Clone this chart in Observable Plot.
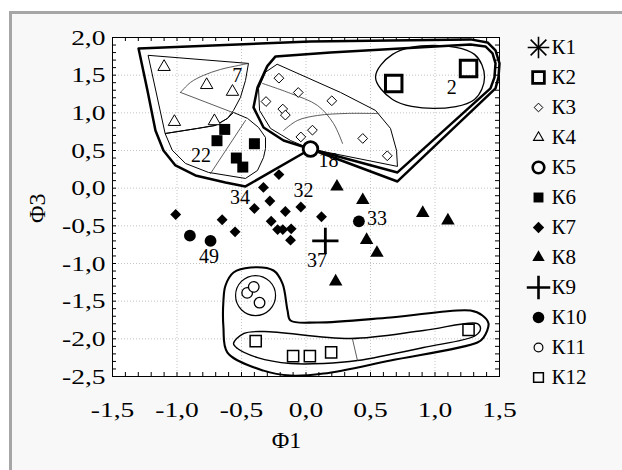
<!DOCTYPE html>
<html><head><meta charset="utf-8">
<script src="https://cdn.jsdelivr.net/npm/d3@7"></script>
<script src="https://cdn.jsdelivr.net/npm/@observablehq/plot@0.6"></script>
<style>
html,body{margin:0;padding:0;background:#fff;}
#wrap{position:relative;width:622px;height:470px;overflow:hidden;}
#bg{position:absolute;left:9px;top:11px;right:0;bottom:0;background:#f8f8f8;border-top:3px solid #a6a6a6;border-left:3px solid #a6a6a6;}
#chart,#legend{position:absolute;top:0;}
#chart{left:0;}
#legend{left:512px;}
</style></head><body>
<div id="wrap"><div id="bg"></div><div id="chart"></div><div id="legend"></div></div>
<script>
// ---- tick labels ----
const xTicks = [-1.5, -1.0, -0.5, 0.0, 0.5, 1.0, 1.5];
const yTicks = [-2.5, -2.0, -1.5, -1.0, -0.5, 0.0, 0.5, 1.0, 1.5, 2.0];
const legendKeys = ["К1","К2","К3","К4","К5","К6","К7","К8","К9","К10","К11","К12"];

// ---- points (Ф1, Ф3) per class ----
const K1 = [];
const K2 = [[0.68,1.39],[1.26,1.59]];
const K3 = [[-0.21,1.46],[-0.06,1.27],[0.20,1.16],[-0.31,1.15],[-0.18,1.05],[-0.16,0.97],[0.05,0.77],[-0.04,0.68],[0.44,0.66],[0.63,0.43]];
const K4 = [[-1.10,1.61],[-0.77,1.37],[-0.57,1.28],[-1.02,0.88],[-0.71,0.89]];
const K5 = [[0.035,0.52]];
const K6 = [[-0.63,0.78],[-0.69,0.63],[-0.40,0.59],[-0.54,0.40],[-0.49,0.28]];
const K7 = [[-0.21,0.18],[-0.33,0.01],[-0.28,-0.17],[-0.40,-0.27],[-0.16,-0.31],[-0.04,-0.25],[-1.01,-0.35],[-0.65,-0.42],[-0.27,-0.44],[-0.22,-0.55],[-0.18,-0.55],[-0.115,-0.54],[-0.12,-0.69],[-0.55,-0.58],[0.12,-0.38]];
const K8 = [[0.24,0.02],[0.44,-0.16],[0.905,-0.33],[1.10,-0.43],[0.47,-0.69],[0.55,-0.86],[0.23,-1.24]];
const K9 = [[0.15,-0.70]];
const K10 = [[-0.90,-0.63],[-0.74,-0.70],[0.41,-0.44]];
const K11 = [[-0.456,-1.39],[-0.405,-1.31],[-0.36,-1.52]];
const K12 = [[-0.39,-2.03],[-0.10,-2.23],[0.03,-2.23],[0.195,-2.18],[1.26,-1.88]];

// ---- point labels ----
const labelText = ["2","18","7","22","34","32","33","49","37"];
const labelPos = [[1.13,1.34],[0.175,0.366],[-0.533,1.497],[-0.814,0.434],[-0.512,-0.124],[-0.019,-0.037],[0.55,-0.409],[-0.752,-0.914],[0.085,-0.96]];

// ---- cluster contours (Ф1, Ф3) ----
const hullUpperOuter = [[-1.298,1.855],[0.035,1.948],[1.275,1.975],[1.407,1.935],[1.469,1.829],[1.500,1.656],[1.492,1.470],[1.469,1.324],[0.709,0.089],[0.035,0.52],[-0.469,0.023],[-0.624,0.076],[-0.857,0.169],[-1.012,0.301],[-1.105,0.501],[-1.167,0.766],[-1.229,1.297]];
const hullRight = [[-0.236,1.749],[0.19,1.802],[1.275,1.908],[1.391,1.882],[1.446,1.789],[1.469,1.656],[1.461,1.470],[1.430,1.324],[0.709,0.209],[0.035,0.52],[-0.174,0.633],[-0.329,0.806],[-0.407,1.072],[-0.376,1.337],[-0.300,1.62]];
const hullK3 = [[-0.221,1.643],[0.267,1.271],[0.539,1.032],[0.655,0.793],[0.702,0.501],[0.709,0.289],[0.035,0.52],[-0.12,0.633],[-0.275,0.793],[-0.360,1.032],[-0.368,1.324],[-0.314,1.537]];
const divK3a = [[-0.337,1.390],[-0.120,1.258],[0.089,1.098],[0.213,0.859],[0.283,0.594]];
const divK3b = [[-0.174,0.766],[-0.066,0.899],[0.089,0.965],[0.322,0.992],[0.56,0.99]];
const ellK2 = [[1.384,1.477],[1.306,1.776],[0.988,1.895],[0.671,1.776],[0.539,1.477],[0.671,1.178],[0.988,1.058],[1.306,1.178]];
const hullK4 = [[-1.221,1.763],[-0.446,1.656],[-0.469,1.430],[-0.508,1.205],[-0.562,1.032],[-0.609,0.926],[-0.702,0.833],[-0.841,0.793],[-1.089,0.726]];
const divK4a = [[-0.973,1.271],[-0.895,1.404],[-0.795,1.497],[-0.663,1.576],[-0.523,1.629],[-0.446,1.656]];
const divK4b = [[-0.973,1.271],[-0.570,1.006]];
const hullK6 = [[-1.089,0.726],[-0.841,0.793],[-0.702,0.833],[-0.609,0.926],[-0.562,1.005],[-0.453,0.926],[-0.368,0.806],[-0.314,0.673],[-0.314,0.527],[-0.329,0.408],[-0.376,0.235],[-0.469,0.129],[-0.756,0.209],[-0.934,0.328],[-1.035,0.501]];
const divK6 = [[-0.469,0.899],[-0.740,0.195]];
const hullLower = [[-0.624,-1.292],[-0.562,-1.120],[-0.430,-1.053],[-0.252,-1.093],[-0.182,-1.266],[-0.143,-1.624],[-0.120,-1.757],[0.089,-1.783],[0.655,-1.717],[1.275,-1.624],[1.368,-1.690],[1.415,-1.797],[1.376,-1.983],[1.329,-2.049],[0.655,-2.288],[0.136,-2.461],[-0.120,-2.488],[-0.329,-2.422],[-0.609,-2.182],[-0.640,-1.850],[-0.640,-1.491]];
const circK11 = [[-0.391,-1.426]];
const hullK12 = [[-0.562,-2.062],[-0.484,-1.930],[-0.329,-1.903],[0.345,-1.996],[0.911,-1.890],[1.329,-1.797],[1.353,-1.863],[1.314,-1.956],[0.911,-2.115],[0.399,-2.288],[0.136,-2.328],[-0.120,-2.328],[-0.376,-2.249],[-0.531,-2.129]];
const divK12 = [[0.360,-2.0],[0.399,-2.288]];

// ---- styles ----
const FONT = "'Liberation Serif','Times New Roman',serif";
const open = (symbol, r, sw) => ({symbol, r, stroke:"black", strokeWidth:sw, fill:"white"});
const solid = (symbol, r) => ({symbol, r, fill:"black", stroke:"none"});
const plotStyle = {
  K1: {symbol:"asterisk", r:6.5, stroke:"black", strokeWidth:1.5},
  K2: {symbol:"square", r:9.3, stroke:"black", strokeWidth:3, fill:"none"},
  K3: open("diamond2", 4.4, 1),
  K4: open("triangle", 4.6, 1),
  K5: open("circle", 7.3, 2.8),
  K6: solid("square", 6.2),
  K7: solid("diamond2", 4.9),
  K8: solid("triangle", 5),
  K9: {symbol:"plus", r:8.5, stroke:"black", strokeWidth:2.8},
  K10: solid("circle", 5.9),
  K11: open("circle", 5.3, 1.3),
  K12: open("square", 6.3, 1.5)
};
const legendStyle = {
  K1: [{symbol:"plus", r:7, stroke:"black", strokeWidth:1.6}, {symbol:"times", r:7.2, stroke:"black", strokeWidth:1.6}],
  K2: [{symbol:"square", r:6.6, stroke:"black", strokeWidth:2.8, fill:"none"}],
  K3: [{symbol:"diamond2", r:3.9, stroke:"black", strokeWidth:1, fill:"none"}],
  K4: [{symbol:"triangle", r:3.7, stroke:"black", strokeWidth:1.1, fill:"none"}],
  K5: [{symbol:"circle", r:5.8, stroke:"black", strokeWidth:2.6, fill:"none"}],
  K6: [solid("square", 5.6)],
  K7: [solid("diamond2", 5.1)],
  K8: [solid("triangle", 4.6)],
  K9: [{symbol:"plus", r:7.6, stroke:"black", strokeWidth:2.6}],
  K10: [solid("circle", 5.8)],
  K11: [{symbol:"circle", r:4.4, stroke:"black", strokeWidth:1.2, fill:"none"}],
  K12: [{symbol:"square", r:5.5, stroke:"black", strokeWidth:1.5, fill:"none"}]
};
const groups = {K1,K2,K3,K4,K5,K6,K7,K8,K9,K10,K11,K12};

const W=622, H=470, mL=112, mR=123, mT=37, mB=94;
const fH = H-mT-mB, fW = W-mL-mR;
const XY = {x: d=>d[0], y: d=>d[1]};
const fmt = d => d.toFixed(1).replace(".", ",").replace("-0,0","0,0");
const minorX = d3.range(-15,16).map(i=>i/10);
const minorY = d3.range(-25,21).map(i=>i/10);
const thick = {stroke:"black", strokeWidth:2.5, strokeLinejoin:"round"};
const thin = {stroke:"black", strokeWidth:1};
const hair = {stroke:"#333", strokeWidth:0.8};

const chart = Plot.plot({
  width: W, height: H, marginLeft: mL, marginRight: mR, marginTop: mT, marginBottom: mB,
  x: {domain: [-1.5, 1.5]},
  y: {domain: [-2.5, 2.0]},
  style: {background: "transparent", fontFamily: FONT, overflow: "visible"},
  marks: [
    Plot.frame({fill: "white", stroke: null}),
    Plot.gridX(xTicks, {stroke: "#c4c4c4", strokeOpacity: 1, strokeDasharray: "1,2"}),
    Plot.gridY(yTicks, {stroke: "#c4c4c4", strokeOpacity: 1, strokeDasharray: "1,2"}),
    Plot.axisX(xTicks, {tickSize: 0, tickPadding: 25, tickFormat: fmt, fontSize: 22, label: null, fill: "black"}),
    Plot.axisY(yTicks, {tickSize: 0, tickPadding: 7, tickFormat: fmt, fontSize: 22, label: null, fill: "black"}),
    Plot.tickX(minorX, {x: d=>d, insetBottom: fH-4, stroke: "black"}),
    Plot.tickX(minorX, {x: d=>d, insetTop: fH-4, stroke: "black"}),
    Plot.tickY(minorY, {y: d=>d, insetRight: fW-4, stroke: "black"}),
    Plot.tickY(minorY, {y: d=>d, insetLeft: fW-4, stroke: "black"}),
    // contours
    Plot.line(hullUpperOuter, {...XY, curve: "linear-closed", ...thick}),
    Plot.line(hullRight, {...XY, curve: "linear-closed", ...thick}),
    Plot.line(hullK3, {...XY, curve: "linear-closed", ...thin}),
    Plot.line(divK3a, {...XY, curve: "catmull-rom", ...hair}),
    Plot.line(divK3b, {...XY, curve: "catmull-rom", ...hair}),
    Plot.line(ellK2, {...XY, curve: "catmull-rom-closed", stroke: "black", strokeWidth: 1.3}),
    Plot.line(hullK4, {...XY, curve: "linear-closed", ...thin}),
    Plot.line(divK4a, {...XY, curve: "catmull-rom", ...hair}),
    Plot.line(divK4b, {...XY, ...hair}),
    Plot.line(hullK6, {...XY, curve: "linear-closed", ...thin}),
    Plot.line(divK6, {...XY, ...hair}),
    Plot.line(hullLower, {...XY, curve: "catmull-rom-closed", stroke: "black", strokeWidth: 2.1}),
    Plot.dot(circK11, {...XY, r: 20, stroke: "black", strokeWidth: 1.2, fill: "none"}),
    Plot.line(hullK12, {...XY, curve: "catmull-rom-closed", stroke: "black", strokeWidth: 1.4}),
    Plot.line(divK12, {...XY, ...hair}),
    // points
    ...Object.keys(groups).map(k => Plot.dot(groups[k], {...XY, ...plotStyle[k]})),
    // labels
    Plot.text(labelText, {x: (d,i)=>labelPos[i][0], y: (d,i)=>labelPos[i][1], text: d=>d, fontSize: 20, fill: "black"}),
    Plot.frame({stroke: "black", strokeWidth: 1}),
    Plot.text(["Φ1"], {frameAnchor: "bottom", text: d=>d, dx: -19.5, dy: 71, fontSize: 24, fill: "black"}),
    Plot.text(["Φ3"], {frameAnchor: "left", text: d=>d, dx: -75.5, dy: 16, rotate: -90, fontSize: 24, fill: "black"})
  ]
});
document.getElementById("chart").appendChild(chart);

// widen tick labels like the reference typeface
function stretch(t, s) {
  const tr = t.getAttribute("transform");
  if (tr) t.setAttribute("transform", tr + ` scale(${s},1)`);
  else {
    const x = parseFloat(t.getAttribute("x")) || 0, y = parseFloat(t.getAttribute("y")) || 0;
    t.setAttribute("transform", `translate(${x},${y}) scale(${s},1) translate(${-x},${-y})`);
  }
}
chart.querySelectorAll('g[aria-label="x-axis tick label"] text, g[aria-label="y-axis tick label"] text').forEach(t => stretch(t, 1.25));

const gkeys = Object.keys(groups);
const legend = Plot.plot({
  width: 110, height: 400, marginTop: 46, marginBottom: 22, marginLeft: 0, marginRight: 0,
  y: {type: "point", domain: legendKeys, axis: null, padding: 0},
  style: {background: "transparent", fontFamily: FONT, overflow: "visible"},
  marks: [
    ...legendKeys.flatMap((k, i) => legendStyle[gkeys[i]].map(s => Plot.dot([k], {y: d=>d, frameAnchor: "left", dx: 26, ...s}))),
    Plot.text(legendKeys, {y: d=>d, text: d=>d, frameAnchor: "left", dx: 39, textAnchor: "start", fontSize: 21, fill: "black"})
  ]
});
document.getElementById("legend").appendChild(legend);
</script>
</body></html>
